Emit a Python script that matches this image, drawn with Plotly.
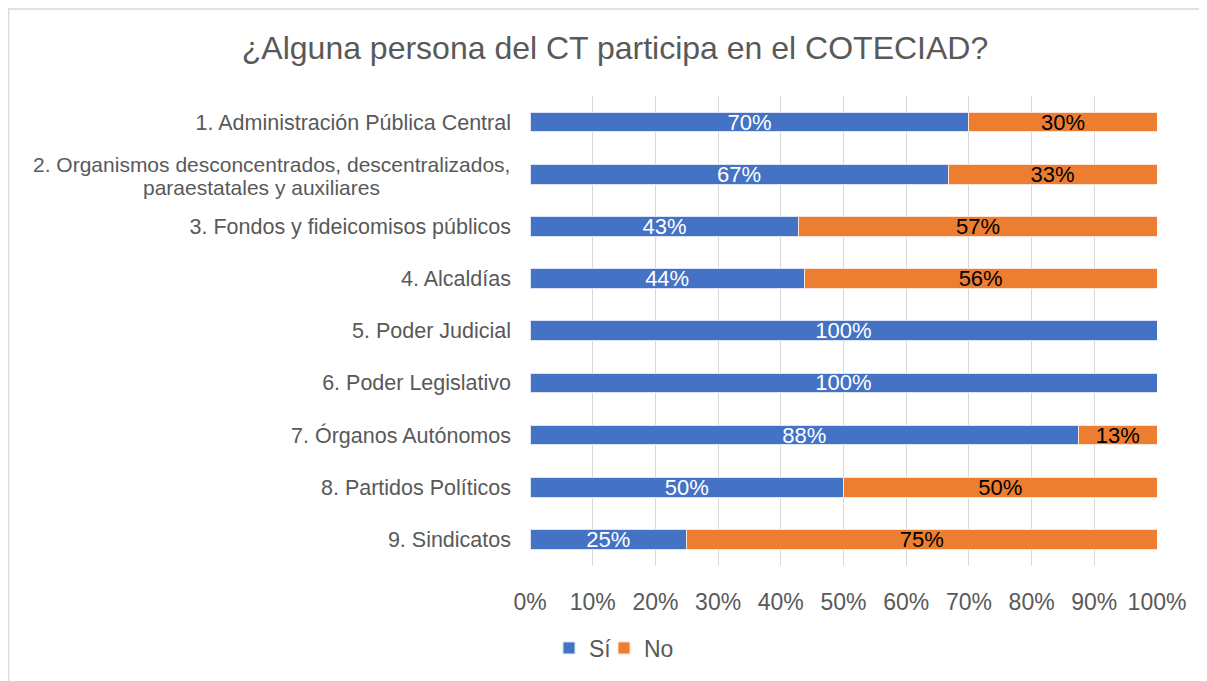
import plotly.graph_objects as go

categories = [
    "1. Administración Pública Central",
    "2. Organismos desconcentrados, descentralizados,<br>paraestatales y auxiliares",
    "3. Fondos y fideicomisos públicos",
    "4. Alcaldías",
    "5. Poder Judicial",
    "6. Poder Legislativo",
    "7. Órganos Autónomos",
    "8. Partidos Políticos",
    "9. Sindicatos",
]
si_values = [70, 66.7, 42.9, 43.75, 100, 100, 87.5, 50, 25]
no_values = [30, 33.3, 57.1, 56.25, 0, 0, 12.5, 50, 75]
x_tick_vals = [0, 10, 20, 30, 40, 50, 60, 70, 80, 90, 100]
x_tick_text = [f"{v}%" for v in x_tick_vals]

FONT = "Liberation Sans, Arial, sans-serif"
GRAY = "#595959"

# page is offset by the 8px body margin
OFF = 8
W, H = 1207, 681
PL, PR, PT, PB = 530 - OFF, 1157 - OFF, 96 - OFF, 568 - OFF


def label(v):
    return "" if v == 0 else f"{int(v + 0.5)}%"


ticktext = ["" if "<br>" in c else c for c in categories]

fig = go.Figure()
fig.add_trace(go.Bar(
    y=categories, x=si_values, name="Sí", orientation="h",
    marker=dict(color="#4472C4", line=dict(color="#DCE3F2", width=1)),
    text=[label(v) for v in si_values], textposition="inside",
    insidetextanchor="middle", textangle=0, constraintext="none",
    textfont=dict(color="white", size=22, family=FONT),
    legend="legend",
))
fig.add_trace(go.Bar(
    y=categories, x=no_values, name="No", orientation="h",
    marker=dict(color="#ED7D31", line=dict(color="#FBE3D5", width=1)),
    text=[label(v) for v in no_values], textposition="inside",
    insidetextanchor="middle", textangle=0, constraintext="none",
    textfont=dict(color="black", size=22, family=FONT),
    legend="legend2",
))

annotations = []
for c in categories:
    if "<br>" in c:
        line1, line2 = c.split("<br>")
        annotations.append(dict(
            x=0, xref="paper", y=c, yref="y", xanchor="right", yanchor="middle",
            xshift=-18, yshift=10, text=line1, showarrow=False,
            font=dict(size=21, color=GRAY, family=FONT),
        ))
        annotations.append(dict(
            x=0, xref="paper", y=c, yref="y", xanchor="center", yanchor="middle",
            xshift=-(530 - 261), yshift=-13, text=line2, showarrow=False,
            font=dict(size=21, color=GRAY, family=FONT),
        ))

pw, ph = PR - PL, PB - PT
bx = (0 - PL) / pw
by = (PB - 0.5) / ph

legend_common = dict(orientation="h", xref="container", xanchor="left",
                     yref="container", y=1 - (648 - OFF) / H, yanchor="middle",
                     font=dict(size=23, color=GRAY, family=FONT),
                     itemwidth=30, bgcolor="rgba(0,0,0,0)")

fig.update_layout(
    barmode="stack",
    bargap=0.62,
    width=W, height=H,
    margin=dict(l=PL, r=W - PR, t=PT, b=H - PB),
    paper_bgcolor="white", plot_bgcolor="white",
    title=dict(text="¿Alguna persona del CT participa en el COTECIAD?",
               x=(615 - OFF) / W, xanchor="center", y=1 - (48 - OFF) / H, yanchor="middle",
               font=dict(size=32, color=GRAY, family=FONT)),
    font=dict(family=FONT, color=GRAY),
    showlegend=True,
    xaxis=dict(range=[0, 100], tickvals=x_tick_vals, ticktext=x_tick_text,
               showgrid=True, gridcolor="#D9D9D9", gridwidth=1,
               zeroline=False, showline=False, ticks="",
               ticklabelstandoff=20,
               tickfont=dict(size=23, color=GRAY, family=FONT)),
    yaxis=dict(autorange="reversed", tickvals=categories, ticktext=ticktext,
               showgrid=False, zeroline=False, showline=False, ticks="",
               ticklabelstandoff=18,
               tickfont=dict(size=21.5, color=GRAY, family=FONT)),
    legend=dict(x=(549 - OFF) / W, **legend_common),
    legend2=dict(x=(604 - OFF) / W, **legend_common),
    annotations=annotations,
    shapes=[
        dict(type="line", xref="paper", yref="paper",
             x0=bx + 0.5 / pw, x1=bx + 0.5 / pw, y0=by, y1=-0.5,
             line=dict(color="#D9D9D9", width=1.5)),
        dict(type="line", xref="paper", yref="paper",
             x0=bx, x1=1.2, y0=by, y1=by,
             line=dict(color="#D9D9D9", width=1.5)),
    ],
)

fig.write_html("out.html")
